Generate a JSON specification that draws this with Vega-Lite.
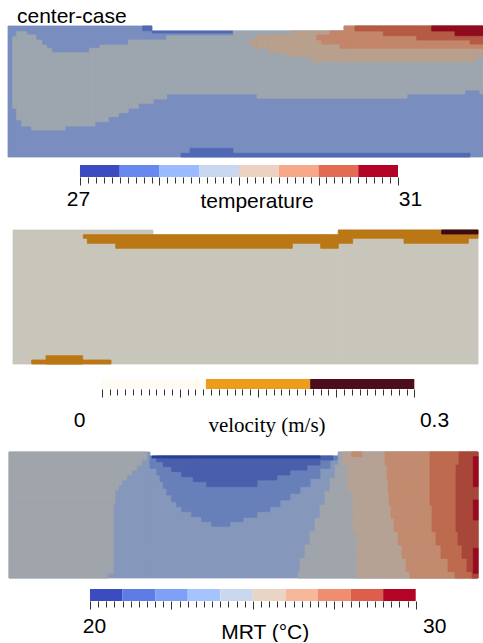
{
"$schema": "https://vega.github.io/schema/vega-lite/v6.json",
"autosize": {"type": "pad"},
"padding": 0,
"background": "white",
"spacing": 0,
"bounds": "flush",
"config": {"view": {"stroke": null}, "font": "Liberation Sans"},
"resolve": {"scale": {"color": "independent", "stroke": "independent", "x": "independent", "y": "independent"}},
"datasets": {
"p1": [
{"x":0,"x2":475,"y":5,"y2":131,"v":28.25},
{"x":0,"x2":144,"y":0,"y2":5,"v":28.25},
{"x":134.7,"x2":143.7,"y":0,"y2":4.7,"v":27.75},
{"x":144,"x2":225,"y":5,"y2":7,"v":27.75},
{"x":173,"x2":182,"y":127.3,"y2":131,"v":27.75},
{"x":182,"x2":225,"y":122.3,"y2":131,"v":27.75},
{"x":225,"x2":462,"y":127.3,"y2":131,"v":27.75},
{"x":4.7,"x2":8.7,"y":10.7,"y2":82.3,"v":28.75},
{"x":8.7,"x2":13.7,"y":5.7,"y2":94,"v":28.75},
{"x":13.7,"x2":18.7,"y":5.7,"y2":100,"v":28.75},
{"x":18.7,"x2":23.7,"y":9,"y2":100,"v":28.75},
{"x":23.7,"x2":28,"y":9,"y2":104,"v":28.75},
{"x":28,"x2":33.7,"y":14,"y2":104,"v":28.75},
{"x":33.7,"x2":38.7,"y":19,"y2":104,"v":28.75},
{"x":38.7,"x2":43.7,"y":22.3,"y2":104,"v":28.75},
{"x":43.7,"x2":57,"y":26.7,"y2":104,"v":28.75},
{"x":57,"x2":81.3,"y":26.7,"y2":100,"v":28.75},
{"x":81.3,"x2":87,"y":22.3,"y2":100,"v":28.75},
{"x":87,"x2":92,"y":22.3,"y2":95.7,"v":28.75},
{"x":92,"x2":100.3,"y":19,"y2":95.7,"v":28.75},
{"x":100.3,"x2":110.3,"y":19,"y2":90.7,"v":28.75},
{"x":110.3,"x2":120.3,"y":19,"y2":86.7,"v":28.75},
{"x":120.3,"x2":130.3,"y":14,"y2":82.3,"v":28.75},
{"x":130.3,"x2":145.3,"y":14,"y2":77.3,"v":28.75},
{"x":145.3,"x2":158.7,"y":14,"y2":73,"v":28.75},
{"x":158.7,"x2":225.3,"y":9.7,"y2":68,"v":28.75},
{"x":225.3,"x2":249,"y":5,"y2":68,"v":28.75},
{"x":249,"x2":399,"y":5,"y2":72.3,"v":28.75},
{"x":399,"x2":457,"y":5,"y2":68,"v":28.75},
{"x":457,"x2":472,"y":5,"y2":64,"v":28.75},
{"x":472,"x2":475,"y":5,"y2":68,"v":28.75},
{"x":240.3,"x2":245.3,"y":14,"y2":18,"v":29.25},
{"x":245.3,"x2":249.3,"y":14,"y2":22.3,"v":29.25},
{"x":249.3,"x2":260.3,"y":9,"y2":22.3,"v":29.25},
{"x":260.3,"x2":278.7,"y":9,"y2":26.7,"v":29.25},
{"x":278.7,"x2":283.7,"y":9,"y2":30.7,"v":29.25},
{"x":283.7,"x2":302.7,"y":5,"y2":30.7,"v":29.25},
{"x":302.7,"x2":336,"y":5,"y2":35.7,"v":29.25},
{"x":336,"x2":467,"y":0,"y2":35.7,"v":29.25},
{"x":467,"x2":475,"y":0,"y2":31.3,"v":29.25},
{"x":308.7,"x2":313.7,"y":9,"y2":14,"v":29.75},
{"x":313.7,"x2":322,"y":9,"y2":18,"v":29.75},
{"x":322,"x2":332,"y":5,"y2":18,"v":29.75},
{"x":332,"x2":336,"y":5,"y2":22.3,"v":29.75},
{"x":336,"x2":475,"y":0,"y2":22.3,"v":29.75},
{"x":347,"x2":375.3,"y":0,"y2":5,"v":30.25},
{"x":375.3,"x2":408.7,"y":0,"y2":9.7,"v":30.25},
{"x":408.7,"x2":462,"y":0,"y2":14,"v":30.25},
{"x":462,"x2":475,"y":0,"y2":18,"v":30.25},
{"x":423.7,"x2":447,"y":0,"y2":5,"v":30.75},
{"x":447,"x2":475,"y":0,"y2":9.7,"v":30.75}
],
"p2": [
{"x":0,"x2":140,"y":0,"y2":134,"u":0.05},
{"x":140,"x2":325.3,"y":4.7,"y2":134,"u":0.05},
{"x":325.3,"x2":465,"y":0,"y2":134,"u":0.05},
{"x":70.3,"x2":74.3,"y":4.7,"y2":8.3,"u":0.15},
{"x":74.3,"x2":102.7,"y":4.7,"y2":13.3,"u":0.15},
{"x":102.7,"x2":279.3,"y":4.7,"y2":18.3,"u":0.15},
{"x":279.3,"x2":307.7,"y":4.7,"y2":13.3,"u":0.15},
{"x":307.7,"x2":325.3,"y":4.7,"y2":18.3,"u":0.15},
{"x":325.3,"x2":339.7,"y":0,"y2":13.3,"u":0.15},
{"x":339.7,"x2":391,"y":0,"y2":8.3,"u":0.15},
{"x":391,"x2":455.3,"y":0,"y2":13.3,"u":0.15},
{"x":455.3,"x2":465,"y":0,"y2":8.3,"u":0.15},
{"x":33,"x2":69.7,"y":125.7,"y2":134,"u":0.15},
{"x":18.7,"x2":98,"y":130,"y2":134,"u":0.15},
{"x":428.7,"x2":465,"y":0,"y2":4,"u":0.25}
],
"p3": [
{"x":0,"x2":141,"y":0,"y2":126,"m":23.5},
{"x":141,"x2":329.3,"y":4,"y2":126,"m":23.5},
{"x":329.3,"x2":469,"y":0,"y2":126,"m":23.5},
{"x":0,"x2":137.7,"y":0,"y2":8,"m":24.5},
{"x":0,"x2":132.7,"y":8,"y2":13,"m":24.5},
{"x":0,"x2":127.7,"y":13,"y2":18,"m":24.5},
{"x":0,"x2":122.7,"y":18,"y2":23,"m":24.5},
{"x":0,"x2":117.7,"y":23,"y2":28,"m":24.5},
{"x":0,"x2":112.7,"y":28,"y2":33,"m":24.5},
{"x":0,"x2":109.3,"y":33,"y2":38,"m":24.5},
{"x":0,"x2":106,"y":38,"y2":51.3,"m":24.5},
{"x":0,"x2":104.3,"y":51.3,"y2":121.3,"m":24.5},
{"x":0,"x2":99.3,"y":121.3,"y2":126,"m":24.5},
{"x":141,"x2":147.7,"y":4,"y2":16.3,"m":22.5},
{"x":147.7,"x2":151,"y":4,"y2":23,"m":22.5},
{"x":151,"x2":154.3,"y":4,"y2":29.7,"m":22.5},
{"x":154.3,"x2":157.7,"y":4,"y2":36.3,"m":22.5},
{"x":157.7,"x2":162.7,"y":4,"y2":43,"m":22.5},
{"x":162.7,"x2":167.7,"y":4,"y2":49.7,"m":22.5},
{"x":167.7,"x2":172.7,"y":4,"y2":54.7,"m":22.5},
{"x":172.7,"x2":182.7,"y":4,"y2":59.7,"m":22.5},
{"x":182.7,"x2":192.7,"y":4,"y2":64.7,"m":22.5},
{"x":192.7,"x2":202.7,"y":4,"y2":69.7,"m":22.5},
{"x":202.7,"x2":221,"y":4,"y2":74.3,"m":22.5},
{"x":221,"x2":234,"y":4,"y2":69.7,"m":22.5},
{"x":234,"x2":248,"y":4,"y2":65.3,"m":22.5},
{"x":248,"x2":261,"y":4,"y2":59.7,"m":22.5},
{"x":261,"x2":271,"y":4,"y2":54.7,"m":22.5},
{"x":271,"x2":281,"y":4,"y2":48,"m":22.5},
{"x":281,"x2":291,"y":4,"y2":41.3,"m":22.5},
{"x":291,"x2":301,"y":4,"y2":34.7,"m":22.5},
{"x":301,"x2":311,"y":4,"y2":26.3,"m":22.5},
{"x":311,"x2":321,"y":4,"y2":16.3,"m":22.5},
{"x":321,"x2":329,"y":4,"y2":8,"m":22.5},
{"x":147.7,"x2":154.3,"y":4,"y2":9.7,"m":21.5},
{"x":154.3,"x2":162.7,"y":4,"y2":14.7,"m":21.5},
{"x":162.7,"x2":172.7,"y":4,"y2":19.7,"m":21.5},
{"x":172.7,"x2":184.3,"y":4,"y2":24.7,"m":21.5},
{"x":184.3,"x2":197.7,"y":4,"y2":29.7,"m":21.5},
{"x":197.7,"x2":248,"y":4,"y2":34.7,"m":21.5},
{"x":248,"x2":268,"y":4,"y2":28,"m":21.5},
{"x":268,"x2":281,"y":4,"y2":23,"m":21.5},
{"x":281,"x2":298,"y":4,"y2":18,"m":21.5},
{"x":298,"x2":311,"y":4,"y2":13,"m":21.5},
{"x":311,"x2":324,"y":4,"y2":8,"m":21.5},
{"x":143,"x2":311,"y":4,"y2":6,"m":20.5},
{"x":329.3,"x2":469,"y":0,"y2":13,"m":24.5},
{"x":326,"x2":469,"y":13,"y2":26.3,"m":24.5},
{"x":321,"x2":469,"y":26.3,"y2":39.7,"m":24.5},
{"x":316,"x2":469,"y":39.7,"y2":53,"m":24.5},
{"x":311,"x2":469,"y":53,"y2":66.3,"m":24.5},
{"x":306,"x2":469,"y":66.3,"y2":79.7,"m":24.5},
{"x":301,"x2":469,"y":79.7,"y2":93,"m":24.5},
{"x":296,"x2":469,"y":93,"y2":106.3,"m":24.5},
{"x":291,"x2":469,"y":106.3,"y2":119.7,"m":24.5},
{"x":289,"x2":469,"y":119.7,"y2":126,"m":24.5},
{"x":334,"x2":469,"y":0,"y2":13,"m":25.5},
{"x":339,"x2":469,"y":13,"y2":26.3,"m":25.5},
{"x":339,"x2":469,"y":26.3,"y2":39.7,"m":25.5},
{"x":344,"x2":469,"y":39.7,"y2":53,"m":25.5},
{"x":344,"x2":469,"y":53,"y2":66.3,"m":25.5},
{"x":344,"x2":469,"y":66.3,"y2":79.7,"m":25.5},
{"x":348,"x2":469,"y":79.7,"y2":126,"m":25.5},
{"x":342.7,"x2":352.7,"y":0,"y2":4.7,"m":26.5},
{"x":376,"x2":469,"y":0,"y2":13,"m":26.5},
{"x":378,"x2":469,"y":13,"y2":26.3,"m":26.5},
{"x":379,"x2":469,"y":26.3,"y2":39.7,"m":26.5},
{"x":380,"x2":469,"y":39.7,"y2":53,"m":26.5},
{"x":382,"x2":469,"y":53,"y2":66.3,"m":26.5},
{"x":385,"x2":469,"y":66.3,"y2":79.7,"m":26.5},
{"x":389,"x2":469,"y":79.7,"y2":93,"m":26.5},
{"x":393,"x2":469,"y":93,"y2":106.3,"m":26.5},
{"x":397,"x2":469,"y":106.3,"y2":119.7,"m":26.5},
{"x":401,"x2":469,"y":119.7,"y2":126,"m":26.5},
{"x":421,"x2":469,"y":0,"y2":53,"m":27.5},
{"x":423,"x2":469,"y":53,"y2":79.7,"m":27.5},
{"x":427,"x2":469,"y":79.7,"y2":93,"m":27.5},
{"x":432,"x2":469,"y":93,"y2":106.3,"m":27.5},
{"x":439,"x2":469,"y":106.3,"y2":119.7,"m":27.5},
{"x":446,"x2":469,"y":119.7,"y2":126,"m":27.5},
{"x":450,"x2":469,"y":0,"y2":13,"m":28.5},
{"x":447,"x2":469,"y":13,"y2":79.7,"m":28.5},
{"x":449,"x2":469,"y":79.7,"y2":93,"m":28.5},
{"x":453,"x2":469,"y":93,"y2":106.3,"m":28.5},
{"x":458,"x2":469,"y":106.3,"y2":119.7,"m":28.5},
{"x":463,"x2":469,"y":119.7,"y2":126,"m":28.5},
{"x":464.3,"x2":469,"y":4.7,"y2":34.7,"m":29.5},
{"x":464.3,"x2":469,"y":48,"y2":68,"m":29.5},
{"x":464.3,"x2":469,"y":96.3,"y2":121.3,"m":29.5}
],
"cb1": [{"lo":27,"hi":27.5},{"lo":27.5,"hi":28},{"lo":28,"hi":28.5},{"lo":28.5,"hi":29},{"lo":29,"hi":29.5},{"lo":29.5,"hi":30},{"lo":30,"hi":30.5},{"lo":30.5,"hi":31}],
"cb2": [{"lo":0,"hi":0.1},{"lo":0.1,"hi":0.2},{"lo":0.2,"hi":0.3}],
"cb3": [{"lo":20,"hi":21},{"lo":21,"hi":22},{"lo":22,"hi":23},{"lo":23,"hi":24},{"lo":24,"hi":25},{"lo":25,"hi":26},{"lo":26,"hi":27},{"lo":27,"hi":28},{"lo":28,"hi":29},{"lo":29,"hi":30}]
},
"vconcat": [
{
"width": 483, "height": 165,
"layer": [
{
"data": {"name": "p1"},
"mark": {"type": "rect", "strokeWidth": 0.8},
"encoding": {
"x": {"field": "x", "type": "quantitative", "scale": {"domain": [-8, 475], "nice": false, "zero": false}, "axis": null},
"x2": {"field": "x2"},
"y": {"field": "y", "type": "quantitative", "scale": {"domain": [-26, 139], "nice": false, "zero": false, "reverse": true}, "axis": null},
"y2": {"field": "y2"},
"color": {"field": "v", "type": "ordinal", "scale": {"domain": [27.75, 28.25, 28.75, 29.25, 29.75, 30.25, 30.75], "range": ["#5169b5", "#798ebf", "#9da6af", "#b8a08d", "#c4866a", "#b55a45", "#8f0b1f"]}, "legend": null},
"stroke": {"field": "v", "type": "ordinal", "scale": {"domain": [27.75, 28.25, 28.75, 29.25, 29.75, 30.25, 30.75], "range": ["#5169b5", "#798ebf", "#9da6af", "#b8a08d", "#c4866a", "#b55a45", "#8f0b1f"]}, "legend": null}
}
},
{
"data": {"values": [{"label": "center-case"}]},
"mark": {"type": "text", "align": "left", "baseline": "alphabetic", "fontSize": 21, "font": "Liberation Sans", "color": "black"},
"encoding": {
"x": {"datum": 9, "type": "quantitative"},
"y": {"datum": -2.7, "type": "quantitative"},
"text": {"field": "label"}
}
}
]
},
{
"width": 483, "height": 12,
"data": {"name": "cb1"},
"mark": {"type": "rect"},
"encoding": {
"x": {"field": "lo", "type": "quantitative", "scale": {"domain": [25.994, 32.069], "nice": false, "zero": false},
"axis": {"values": [27,27.1,27.2,27.3,27.4,27.5,27.6,27.7,27.8,27.9,28,28.1,28.2,28.3,28.4,28.5,28.6,28.7,28.8,28.9,29,29.1,29.2,29.3,29.4,29.5,29.6,29.7,29.8,29.9,30,30.1,30.2,30.3,30.4,30.5,30.6,30.7,30.8,30.9,31],
"labelExpr": "datum.value == 27 ? '27' : (datum.value == 31 ? '31' : '')",
"domain": false, "grid": false, "ticks": true, "tickColor": "#333", "tickWidth": 1, "tickOpacity": 1,
"tickSize": {"condition": {"test": "abs(datum.value - round(datum.value)) < 0.001", "value": 8}, "value": 6},
"labelFontSize": 21, "labelFont": "Liberation Sans", "labelColor": "black", "labelPadding": 3, "labelOverlap": false,
"labelOffset": {"condition": {"test": "datum.value == 31", "value": 12}, "value": -2},
"title": "temperature", "titleFontSize": 21, "titleFont": "Liberation Sans", "titleFontWeight": "normal", "titleColor": "black",
"titleX": 256.5, "titleY": 30, "titleBaseline": "alphabetic", "titleAnchor": "middle", "titleAlign": "center"}},
"x2": {"field": "hi"},
"color": {"field": "lo", "type": "ordinal", "scale": {"domain": [27,27.5,28,28.5,29,29.5,30,30.5], "range": ["#3b4cc0","#6788ee","#9abbff","#c9d7f0","#edd1c2","#f7a889","#e36a53","#b40426"]}, "legend": null}
}
},
{
"width": 483, "height": 202,
"data": {"name": "p2"},
"mark": {"type": "rect", "strokeWidth": 0.8},
"encoding": {
"x": {"field": "x", "type": "quantitative", "scale": {"domain": [-13, 470], "nice": false, "zero": false}, "axis": null},
"x2": {"field": "x2"},
"y": {"field": "y", "type": "quantitative", "scale": {"domain": [-53, 149], "nice": false, "zero": false, "reverse": true}, "axis": null},
"y2": {"field": "y2"},
"color": {"field": "u", "type": "ordinal", "scale": {"domain": [0.05, 0.15, 0.25], "range": ["#c8c6ba", "#ba7714", "#3e0a14"]}, "legend": null},
"stroke": {"field": "u", "type": "ordinal", "scale": {"domain": [0.05, 0.15, 0.25], "range": ["#c8c6ba", "#ba7714", "#3e0a14"]}, "legend": null}
}
},
{
"width": 483, "height": 10,
"data": {"name": "cb2"},
"mark": {"type": "rect"},
"encoding": {
"x": {"field": "lo", "type": "quantitative", "scale": {"domain": [-0.0976, 0.3659], "nice": false, "zero": false},
"axis": {"values": [0,0.0075,0.015,0.0225,0.03,0.0375,0.045,0.0525,0.06,0.0675,0.075,0.0825,0.09,0.0975,0.105,0.1125,0.12,0.1275,0.135,0.1425,0.15,0.1575,0.165,0.1725,0.18,0.1875,0.195,0.2025,0.21,0.2175,0.225,0.2325,0.24,0.2475,0.255,0.2625,0.27,0.2775,0.285,0.2925,0.3],
"labelExpr": "datum.value == 0 ? '0' : (datum.value == 0.3 ? '0.3' : '')",
"domain": false, "grid": false, "ticks": true, "tickColor": "#333", "tickWidth": 1, "tickOpacity": 1,
"tickSize": {"condition": {"test": "abs(datum.value / 0.075 - round(datum.value / 0.075)) < 0.001", "value": 8}, "value": 6},
"labelFontSize": 21, "labelFont": "Liberation Sans", "labelColor": "black", "labelPadding": 12, "labelOverlap": false,
"labelOffset": {"condition": {"test": "datum.value == 0", "value": -22.7}, "value": 19.7},
"title": "velocity (m/s)", "titleFontSize": 21, "titleFont": "Liberation Serif", "titleFontWeight": "normal", "titleColor": "black",
"titleX": 266.5, "titleY": 42, "titleBaseline": "alphabetic", "titleAnchor": "middle", "titleAlign": "center"}},
"x2": {"field": "hi"},
"color": {"field": "lo", "type": "ordinal", "scale": {"domain": [0, 0.1, 0.2], "range": ["#fffcf4", "#ef9c1d", "#4e0d1b"]}, "legend": null}
}
},
{
"width": 483, "height": 200,
"data": {"name": "p3"},
"mark": {"type": "rect", "strokeWidth": 0.8},
"encoding": {
"x": {"field": "x", "type": "quantitative", "scale": {"domain": [-9, 474], "nice": false, "zero": false}, "axis": null},
"x2": {"field": "x2"},
"y": {"field": "y", "type": "quantitative", "scale": {"domain": [-63, 137], "nice": false, "zero": false, "reverse": true}, "axis": null},
"y2": {"field": "y2"},
"color": {"field": "m", "type": "ordinal", "scale": {"domain": [20.5,21.5,22.5,23.5,24.5,25.5,26.5,27.5,28.5,29.5], "range": ["#2b3f94","#4a5fab","#6880ba","#8597bb","#a0a5ab","#b5a294","#c28a6e","#bd6a4f","#a8463a","#990a1e"]}, "legend": null},
"stroke": {"field": "m", "type": "ordinal", "scale": {"domain": [20.5,21.5,22.5,23.5,24.5,25.5,26.5,27.5,28.5,29.5], "range": ["#2b3f94","#4a5fab","#6880ba","#8597bb","#a0a5ab","#b5a294","#c28a6e","#bd6a4f","#a8463a","#990a1e"]}, "legend": null}
}
},
{
"width": 483, "height": 12,
"data": {"name": "cb3"},
"mark": {"type": "rect"},
"encoding": {
"x": {"field": "lo", "type": "quantitative", "scale": {"domain": [17.237, 32.066], "nice": false, "zero": false},
"axis": {"values": [20,20.25,20.5,20.75,21,21.25,21.5,21.75,22,22.25,22.5,22.75,23,23.25,23.5,23.75,24,24.25,24.5,24.75,25,25.25,25.5,25.75,26,26.25,26.5,26.75,27,27.25,27.5,27.75,28,28.25,28.5,28.75,29,29.25,29.5,29.75,30],
"labelExpr": "datum.value == 20 ? '20' : (datum.value == 30 ? '30' : '')",
"domain": false, "grid": false, "ticks": true, "tickColor": "#333", "tickWidth": 1, "tickOpacity": 1,
"tickSize": {"condition": {"test": "abs(datum.value / 2.5 - round(datum.value / 2.5)) < 0.001", "value": 8}, "value": 6},
"labelFontSize": 21, "labelFont": "Liberation Sans", "labelColor": "black", "labelPadding": 6, "labelOverlap": false,
"labelOffset": {"condition": {"test": "datum.value == 30", "value": 18.5}, "value": 4},
"title": "MRT (°C)", "titleFontSize": 21, "titleFont": "Liberation Sans", "titleFontWeight": "normal", "titleColor": "black",
"titleX": 264.7, "titleY": 37, "titleBaseline": "alphabetic", "titleAnchor": "middle", "titleAlign": "center"}},
"x2": {"field": "hi"},
"color": {"field": "lo", "type": "ordinal", "scale": {"domain": [20,21,22,23,24,25,26,27,28,29], "range": ["#3b4cc0","#5d7ce6","#7fa0f7","#a5c3fe","#cad8ef","#ead4c6","#f6b79b","#f08c6f","#dc5e4b","#b40426"]}, "legend": null}
}
}
]
}
